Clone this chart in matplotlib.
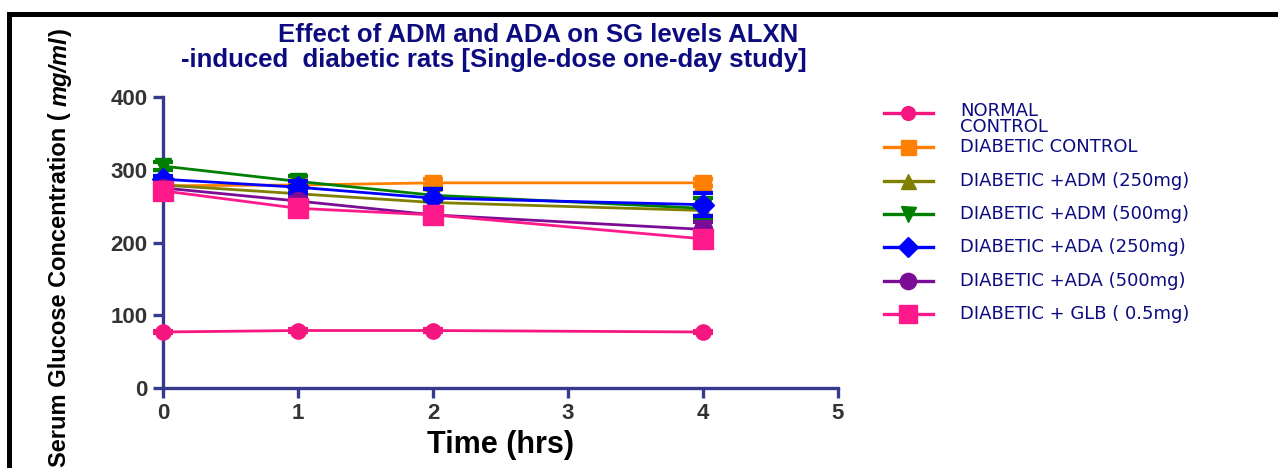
import matplotlib
matplotlib.use('Agg')
import matplotlib.pyplot as plt
from matplotlib.lines import Line2D
from matplotlib.patches import Rectangle

# === data ===
time_hrs = [0, 1, 2, 4]
normal_ctrl = [77, 79, 79, 77]
diab_ctrl = [278, 279, 282, 282]
adm_250 = [279, 267, 255, 244]
adm_500 = [305, 284, 265, 247]
ada_250 = [287, 276, 261, 252]
ada_500 = [275, 257, 238, 218]
glb_05 = [271, 247, 238, 205]

# error bars (SEM, estimated)
normal_err = [2, 2, 2, 2]
diab_err = [3, 4, 5, 5]
adm250_err = [4, 5, 6, 8]
adm500_err = [5, 7, 8, 14]
ada250_err = [5, 8, 13, 16]
ada500_err = [4, 6, 8, 10]
glb_err = [4, 5, 6, 8]

labels = ['NORMAL\nCONTROL', 'DIABETIC CONTROL', 'DIABETIC +ADM (250mg)',
          'DIABETIC +ADM (500mg)', 'DIABETIC +ADA (250mg)',
          'DIABETIC +ADA (500mg)', 'DIABETIC + GLB ( 0.5mg)']
x_ticks = [0, 1, 2, 3, 4, 5]
y_ticks = [0, 100, 200, 300, 400]

series = [normal_ctrl, diab_ctrl, adm_250, adm_500, ada_250, ada_500, glb_05]
errors = [normal_err, diab_err, adm250_err, adm500_err, ada250_err, ada500_err, glb_err]
colors = ['#f5167f', '#ff8000', '#808000', '#008000', '#0000ff', '#7b0c95', '#ff1a8c']
markers = ['o', 's', '^', 'v', 'D', 'o', 's']
msizes = [11, 12, 12, 12, 11, 13, 15]

AXIS_COL = '#363a8e'
TXT_NAVY = '#0c0c80'
W, H = 1278, 468

fig = plt.figure(figsize=(12.78, 4.68), dpi=100)
ax = fig.add_axes([163 / W, 1 - 388 / H, (838 - 163) / W, (388 - 97) / H])

for i, (vals, err) in enumerate(zip(series, errors)):
    ax.errorbar(time_hrs, vals, yerr=err, color=colors[i], marker=markers[i],
                markersize=msizes[i], linewidth=2, elinewidth=2.2, capsize=7,
                capthick=3, zorder=3 + i, clip_on=False)

ax.set_xlim(0, 5)
ax.set_ylim(0, 400)
ax.set_xticks(x_ticks)
ax.set_yticks(y_ticks)
for side in ['top', 'right']:
    ax.spines[side].set_visible(False)
for side in ['left', 'bottom']:
    ax.spines[side].set_color(AXIS_COL)
    ax.spines[side].set_linewidth(2.4)
ax.tick_params(direction='out', length=7, width=2.4, color=AXIS_COL,
               labelsize=16, labelcolor='#333333', pad=4)
for lab in ax.get_xticklabels() + ax.get_yticklabels():
    lab.set_fontweight('bold')
    lab.set_fontfamily('Liberation Sans')

ax.set_xlabel('Time (hrs)', fontsize=22, fontweight='bold',
              fontfamily='Liberation Sans', labelpad=4)

# y label with italic unit part
ylab = fig.text(60 / W, 1 - 28 / H, ')', rotation=90, ha='center', va='top',
                fontsize=17, fontweight='bold', fontfamily='Liberation Sans')
unit = ax.annotate('mg/ml', xy=(0.5, 0), xycoords=ylab, ha='center', va='top',
                   rotation=90, fontsize=17, fontweight='bold', fontstyle='italic',
                   fontfamily='Liberation Sans', annotation_clip=False)
ax.annotate('Serum Glucose Concentration ( ', xy=(0.5, 0), xycoords=unit,
            ha='center', va='top', rotation=90, fontsize=17, fontweight='bold',
            fontfamily='Liberation Sans', annotation_clip=False)

# title, two lines as in the picture
fig.text(538 / W, 1 - 42 / H, 'Effect of ADM and ADA on SG levels ALXN',
         ha='center', va='baseline', fontsize=18.5, fontweight='bold',
         color=TXT_NAVY, fontfamily='Liberation Sans')
fig.text(494 / W, 1 - 67 / H, '-induced  diabetic rats [Single-dose one-day study]',
         ha='center', va='baseline', fontsize=18.5, fontweight='bold',
         color=TXT_NAVY, fontfamily='Liberation Sans')

# legend drawn by hand so the two-line first label sits like the original
row_y = [113, 147, 181, 214, 247, 281, 314]
for i, lab in enumerate(labels):
    yy = 1 - row_y[i] / H
    fig.add_artist(Line2D([884 / W, 908 / W, 933 / W], [yy, yy, yy],
                          color=colors[i], lw=2.4, marker=markers[i],
                          markersize=msizes[i] * 0.9, markevery=[1]))
    ty = yy
    if '\n' in lab:
        ty = 1 - (row_y[i] + 6) / H
    fig.text(960 / W, ty, lab, ha='left', va='center', fontsize=13,
             color=TXT_NAVY, fontfamily='DejaVu Sans', linespacing=0.82)

# black frame, cut off at the right and bottom
fig.add_artist(Rectangle((9 / W, -0.5), 2, 1.5 - 13.5 / H, transform=fig.transFigure,
                         fill=False, edgecolor='black', linewidth=3.6, clip_on=False))

fig.savefig('out.png', dpi=100)
